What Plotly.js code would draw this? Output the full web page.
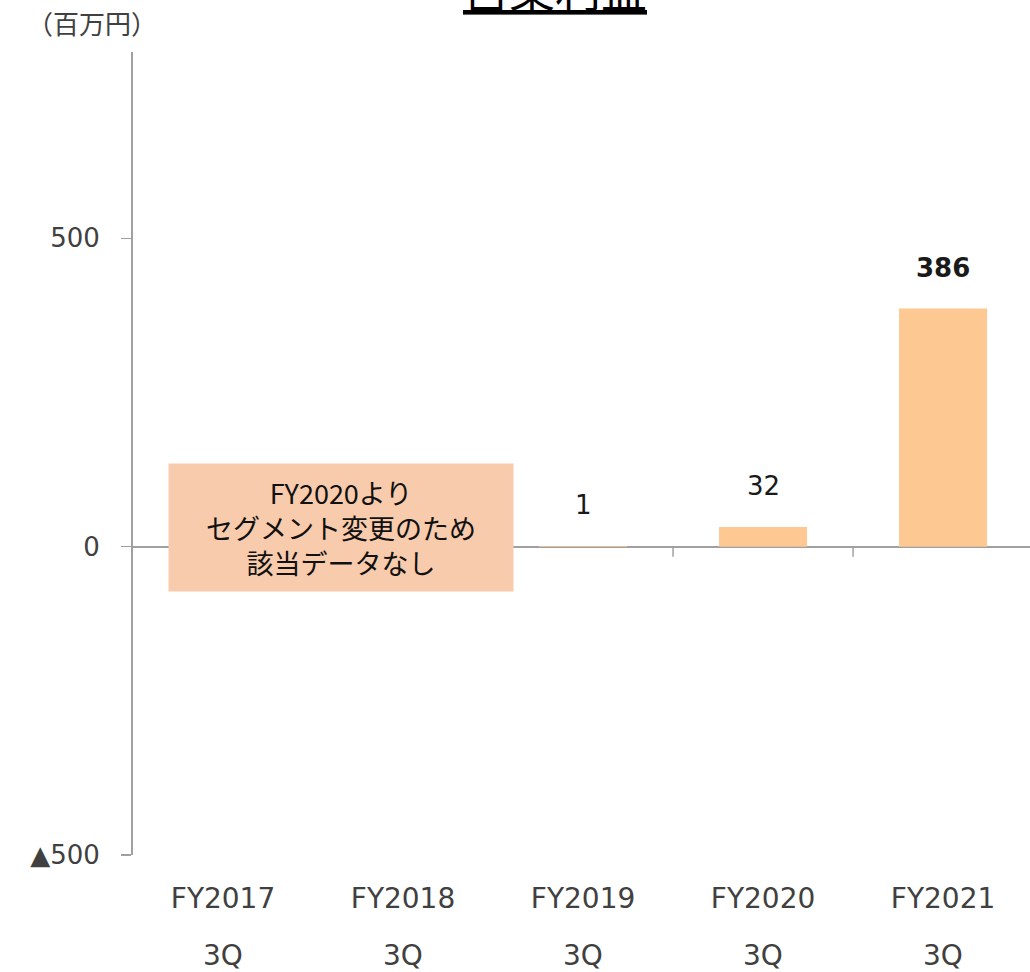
<!DOCTYPE html>
<html>
<head>
<meta charset="utf-8">
<script src="https://cdn.plot.ly/plotly-3.0.1.min.js"></script>
<style>html,body{margin:0;padding:0;overflow:hidden;background:#fff;}</style>
</head>
<body>
<div id="chart" style="width:1030px;height:972px;"></div>
<script>
const fiscalYears = ['FY2017', 'FY2018', 'FY2019', 'FY2020', 'FY2021'];
const quarters = ['3Q', '3Q', '3Q', '3Q', '3Q'];
const operatingProfit = [null, null, 1, 32, 386];
const valueLabels = ['', '', '1', '32', '386'];
const yTickVals = [-500, 0, 500];
const yTickText = ['▲500', '0', '500'];
const chartTitle = '営業利益';
const unitLabel = '（百万円）';
const noteText = 'FY2020より<br>セグメント変更のため<br>該当データなし';

const FONT = 'DejaVu Sans, Noto Sans CJK JP, sans-serif';
const JFONT = 'Noto Sans CJK JP, sans-serif';
const AXIS_GRAY = '#a0a0a0';
const TEXT_GRAY = '#404040';
const yRange = [-500, 802];
const xRange = [-0.5, 4.483];
const zeroPos = (0 - yRange[0]) / (yRange[1] - yRange[0]);

const trace = {
  type: 'bar',
  x: fiscalYears,
  y: operatingProfit,
  marker: {color: '#fec892'},
  hoverinfo: 'skip'
};

const annotations = [];
fiscalYears.forEach((fy, i) => {
  // second line of the category label
  annotations.push({
    x: fy, xref: 'x', yref: 'paper', y: 0, yanchor: 'middle', yshift: -100,
    text: quarters[i], showarrow: false,
    font: {family: FONT, size: 28, color: TEXT_GRAY}
  });
  if (valueLabels[i] === '') return;
  const last = i === fiscalYears.length - 1;
  annotations.push({
    x: fy, y: operatingProfit[i], xref: 'x', yref: 'y',
    text: last ? '<b>' + valueLabels[i] + '</b>' : valueLabels[i],
    showarrow: false, yanchor: 'middle', yshift: 41,
    font: {family: FONT, size: 26, color: '#1a1a1a'}
  });
});
annotations.push({
  xref: 'paper', yref: 'paper', x: (341 - 133) / 897, y: zeroPos + 19.5 / 803,
  text: noteText, showarrow: false, width: 344, height: 127, borderpad: 0,
  bgcolor: '#f8cbad', xanchor: 'center', yanchor: 'middle',
  font: {family: JFONT, size: 27, color: '#111'}
});
annotations.push({
  xref: 'paper', yref: 'paper', x: (555 - 133) / 897, y: 1, yanchor: 'middle', yshift: 65,
  text: chartTitle, showarrow: false,
  font: {family: JFONT, size: 46, color: '#000', lineposition: 'under'}
});
annotations.push({
  xref: 'paper', yref: 'paper', x: (92 - 133) / 897, y: 1, xanchor: 'center', yanchor: 'middle', yshift: 30,
  text: unitLabel, showarrow: false,
  font: {family: JFONT, size: 26, color: TEXT_GRAY}
});

// small ticks on the zero line at category boundaries
const shapes = fiscalYears.slice(0, -1).map((_, i) => ({
  type: 'line', xref: 'x', yref: 'y', ysizemode: 'pixel', yanchor: 0,
  x0: i + 0.5, x1: i + 0.5, y0: 0, y1: -10,
  line: {color: AXIS_GRAY, width: 1.5}, layer: 'above'
}));

const layout = {
  width: 1030, height: 972,
  margin: {l: 133, r: 0, t: 52, b: 117},
  paper_bgcolor: '#fff', plot_bgcolor: '#fff',
  showlegend: false,
  bargap: 0.511,
  xaxis: {
    type: 'category', range: xRange, showline: false, ticks: '', showgrid: false, zeroline: false,
    tickfont: {family: FONT, size: 28, color: TEXT_GRAY}, ticklabelstandoff: 24, fixedrange: true
  },
  yaxis: {
    range: yRange, tickmode: 'array', tickvals: yTickVals, ticktext: yTickText,
    ticks: 'outside', ticklen: 10, tickcolor: AXIS_GRAY, tickwidth: 1.5,
    showline: true, linecolor: AXIS_GRAY, linewidth: 2, showgrid: false,
    zeroline: true, zerolinecolor: AXIS_GRAY, zerolinewidth: 2,
    tickfont: {family: FONT, size: 26, color: TEXT_GRAY}, ticklabelstandoff: 16, fixedrange: true
  },
  shapes: shapes,
  annotations: annotations
};

Plotly.newPlot('chart', [trace], layout, {displayModeBar: false, staticPlot: true});
</script>
</body>
</html>
